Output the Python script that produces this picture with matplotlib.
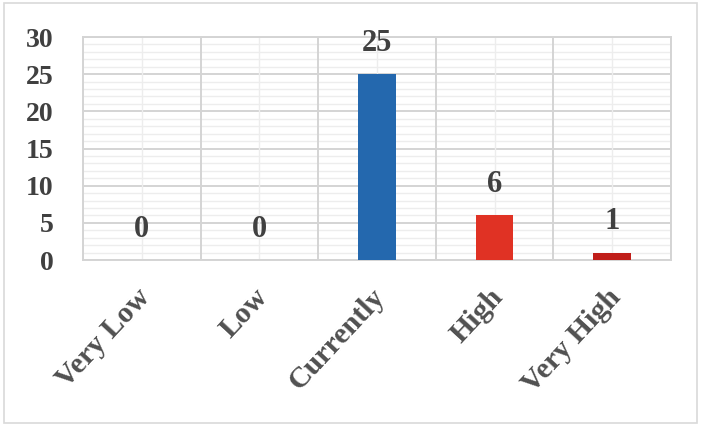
import numpy as np
import matplotlib.pyplot as plt
import matplotlib.transforms as mtransforms
from matplotlib.patches import Rectangle

categories = ['Very Low', 'Low', 'Currently', 'High', 'Very High']
values = [0, 0, 25, 6, 1]
colors = ['#2468AE', '#2468AE', '#2468AE', '#E03224', '#C01E1A']

plt.rcParams['font.family'] = 'Liberation Serif'
plt.rcParams['font.weight'] = 'bold'

fig = plt.figure(figsize=(7.01, 4.25), dpi=100)
fig.patches.append(Rectangle((4/701, 2/425), 693/701, 420/425, transform=fig.transFigure,
                             fill=False, edgecolor='#D9D9D9', linewidth=1.2))
ax = fig.add_axes([83/701, 1 - 260/425, (671-83)/701, (260-37)/425])

x = np.arange(len(categories))
ax.bar(x, values, width=0.32, color=colors, zorder=3)

ax.set_xlim(-0.5, 4.5)
ax.set_ylim(0, 30)

# grid: minor every 1, major every 5
for y in range(0, 31):
    if y % 5 == 0:
        ax.axhline(y, color='#D4D4D4', lw=1.4, zorder=1)
    else:
        ax.axhline(y, color='#EDEDED', lw=1.0, zorder=1)
for b in np.arange(-0.5, 5, 1):
    ax.axvline(b, color='#D4D4D4', lw=1.4, zorder=1)
for c in x:
    ax.axvline(c, color='#EDEDED', lw=1.0, zorder=1)

for s in ax.spines.values():
    s.set_color('#D4D4D4')
    s.set_linewidth(1.4)

for xi, v in zip(x, values):
    ax.annotate(str(v), (xi, v), xytext=(0, 31), textcoords='offset pixels',
                ha='center', va='center', fontsize=22, fontweight='bold', color='#404040')

ax.set_yticks(range(0, 31, 5))
ax.set_yticklabels([str(t) for t in range(0, 31, 5)], fontsize=20, fontweight='bold', color='#404040')
ax.set_xticks(x)
ax.set_xticklabels(categories, rotation=47, ha='right', rotation_mode='anchor',
                   fontsize=21.5, fontweight='bold', color='#505050')
ax.tick_params(length=0)
ax.tick_params(axis='x', pad=17)
ax.tick_params(axis='y', pad=21)

shift = mtransforms.ScaledTranslation(-6/100, 0, fig.dpi_scale_trans)
for lab in ax.get_xticklabels():
    lab.set_transform(lab.get_transform() + shift)

fig.savefig('out.png', dpi=100)
